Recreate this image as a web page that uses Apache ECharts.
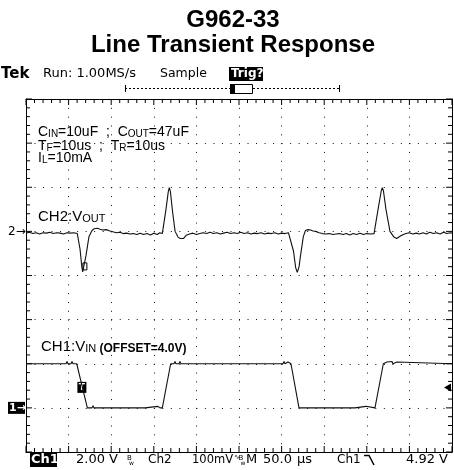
<!DOCTYPE html>
<html><head><meta charset="utf-8">
<script src="https://cdn.jsdelivr.net/npm/echarts@6/dist/echarts.min.js"></script>
<style>html,body{margin:0;padding:0;background:#fff}#c{width:454px;height:470px}</style>
</head><body><div id="c"></div>
<script>
// ---- data (time in microseconds) ----
const titleLines = ['G962-33', 'Line Transient Response'];

// CH1: VIN in volts (2 V/div, ground offset 4.0 V)
const vinTimeUs = [0, 40, 47, 48.1, 49.3, 52.8, 54, 55.2, 56.9, 59.5, 72, 77.5, 78.7, 79.8, 86.9, 88, 89.2, 96.2, 97.4, 98.6, 108, 109.2, 110.3, 139.7, 142, 154.9, 157.3, 160, 169.8, 173.7, 174.9, 176, 179.6, 180.7, 181.9, 185.4, 186.6, 187.8, 219.5, 220.7, 221.8, 251.2, 252.3, 253.5, 280.5, 281.7, 282.9, 301.6, 302.8, 304, 306.3, 307.5, 308.7, 311, 320.4, 326.3, 327.5, 328.6, 356.8, 358, 359.2, 374.4, 375.6, 376.8, 386.1, 387.3, 399, 400.2, 409.6, 419.4, 423.7, 426, 429.6, 430.7, 435.4, 436.6, 500];
const vinVolts = [6.0, 6.0, 6.0, 6.1, 6.0, 6.0, 6.1, 6.0, 6.08, 6.0, 4.0, 4.0, 4.1, 4.0, 4.0, 4.08, 4.0, 4.0, 4.08, 4.0, 4.0, 4.06, 4.0, 4.0, 4.07, 4.07, 4.0, 4.0, 6.0, 6.0, 6.1, 6.0, 6.0, 6.1, 6.0, 6.0, 6.08, 6.0, 6.0, 6.08, 6.0, 6.0, 6.08, 6.0, 6.0, 6.08, 6.0, 6.0, 6.1, 6.0, 6.0, 6.08, 6.0, 6.0, 4.0, 4.0, 4.08, 4.0, 4.0, 4.06, 4.0, 4.0, 4.06, 4.0, 4.0, 4.07, 4.07, 4.0, 4.0, 6.0, 6.08, 6.0, 6.1, 6.0, 6.08, 6.0, 6.0];

// CH2: VOUT in millivolts (100 mV/div)
const voutTimeUs = [0, 4, 8, 12, 16, 20, 24, 28, 32, 36, 40, 44, 48, 52, 56, 60.2, 63.4, 65.5, 66.5, 68, 70.4, 73.9, 77.5, 80, 82, 84, 86.9, 90, 94, 98.6, 102, 106, 110, 114, 118, 122, 126, 130, 134, 138, 142, 146, 150, 154, 157, 160, 164.3, 167, 168.2, 169.5, 172, 175, 178.4, 181, 183, 185, 188, 192, 196, 200, 204, 208, 212, 216, 220, 224, 228, 232, 236, 240, 244, 248, 252, 256, 260, 264, 268, 272, 276, 280, 284, 288, 292, 296, 300, 304, 308, 310, 314, 316.5, 318.4, 320.5, 322.2, 325.5, 328, 331, 334, 337, 340, 344, 348, 352, 356, 360, 364, 368, 372, 376, 380, 384, 388, 392, 396, 400, 404, 408.5, 413.2, 417, 418.2, 419.5, 422.5, 427.2, 431.9, 435, 437, 440, 443, 446, 450, 454, 458, 462, 466, 470, 474, 478, 482, 486, 490, 494, 498, 500];
const voutMilliVolts = [-4, -2, -5, -3, -6, -3, -4, -2, -5, -3, -4, -6, -3, -4, -3, -5, -40, -80, -92, -92, -55, -12, 2, 6, 4, 7, 5, 3, 4, 1, -1, -3, -2, -5, -4, -6, -5, -7, -4, -7, -5, -8, -4, -7, -3, -5, 50, 90, 99, 90, 45, 0, -13, -16, -14, -16, -9, -6, -4, -7, -5, -3, -5, -2, -5, -3, -6, -4, -2, -5, -3, -5, -2, -5, -3, -6, -4, -5, -3, -6, -4, -5, -3, -6, -4, -5, -3, -5, -45, -82, -93, -80, -55, -12, 2, 4, 3, 1, 0, -3, -5, -6, -5, -7, -6, -5, -7, -5, -8, -5, -7, -4, -7, -5, -6, -5, 50, 92, 99, 92, 50, 0, -13, -16, -14, -10, -7, -5, -3, -6, -4, -6, -3, -6, -2, -5, -3, -6, -2, -5, -3, -4];

const ch1Ground = 4.0;     // V (offset)
const ch2Ground = 0;       // mV
const triggerLevel = 4.92; // V
const triggerTimeUs = 65;
const timeAxis = {min: 0, max: 500, step: 50};
const vinAxis = {min: 2, max: 18, step: 2};
const voutAxis = {min: -500, max: 300, step: 100};

// graticule tick positions (every 1/5 division) derived from the axis ranges
const timeTicks = [];
for (let k = 0; k <= 50; k++) timeTicks.push(timeAxis.min + k * timeAxis.step / 5);
const voltTicks = [];
for (let k = 0; k <= 40; k++) voltTicks.push(vinAxis.min + k * vinAxis.step / 5);

// ---- chart ----
const chart = echarts.init(document.getElementById('c'), null, {renderer: 'canvas'});
const GRID = {left: 26, top: 99, width: 426, height: 353};
const black = '#000';
const frameAxis = (extra) => Object.assign({
  type: 'value',
  axisLine: {show: true, onZero: false, lineStyle: {color: black, width: 1}},
  axisTick: {show: false},
  axisLabel: {show: false},
  splitLine: {show: false}
}, extra);

const SANS = '"Liberation Sans", Arial, sans-serif';
const SCOPE = '"DejaVu Sans", sans-serif';

const tickLen = (i) => (i % 5 === 0 ? 6 : 4);
const tickSeries = (data, sizeFn, offsetFn) => ({
  type: 'scatter', xAxisIndex: 0, yAxisIndex: 0, silent: true, clip: false, z: 5,
  symbol: 'rect', itemStyle: {color: black, opacity: 1},
  data: data.map((d, i) => ({value: d, symbolSize: sizeFn(i), symbolOffset: offsetFn(i)}))
});

chart.setOption({
  animation: false,
  backgroundColor: '#fff',
  grid: Object.assign({containLabel: false}, GRID),
  xAxis: [
    frameAxis({min: timeAxis.min, max: timeAxis.max, interval: timeAxis.step, position: 'bottom',
      splitLine: {show: true, lineStyle: {color: '#111', width: 1, type: [1, 7.825]}}}),
    frameAxis({min: timeAxis.min, max: timeAxis.max, interval: timeAxis.step, position: 'top'})
  ],
  yAxis: [
    frameAxis({min: vinAxis.min, max: vinAxis.max, interval: vinAxis.step, position: 'left',
      splitLine: {show: true, lineStyle: {color: '#111', width: 1, type: [1, 7.52]}}}),
    frameAxis({min: voutAxis.min, max: voutAxis.max, interval: voutAxis.step, position: 'right'})
  ],
  series: [
    {name: 'VIN', type: 'line', xAxisIndex: 0, yAxisIndex: 0, showSymbol: false, symbol: 'none',
     lineStyle: {color: '#111', width: 1.1}, data: vinTimeUs.map((t, i) => [t, vinVolts[i]])},
    {name: 'VOUT', type: 'line', xAxisIndex: 0, yAxisIndex: 1, showSymbol: false, symbol: 'none',
     lineStyle: {color: '#111', width: 1.1}, data: voutTimeUs.map((t, i) => [t, voutMilliVolts[i]])},
    // frame ticks: top, bottom, left, right
    tickSeries(timeTicks.map(t => [t, vinAxis.max]), i => [1, tickLen(i)], i => [0, tickLen(i) / 2]),
    tickSeries(timeTicks.map(t => [t, vinAxis.min]), i => [1, tickLen(i)], i => [0, -tickLen(i) / 2]),
    tickSeries(voltTicks.map(v => [timeAxis.min, v]), i => [tickLen(i), 1], i => [tickLen(i) / 2, 0]),
    tickSeries(voltTicks.map(v => [timeAxis.max, v]), i => [tickLen(i), 1], i => [-tickLen(i) / 2, 0])
  ]
});

const y1 = chart.convertToPixel({yAxisIndex: 0}, ch1Ground);
const y2 = chart.convertToPixel({yAxisIndex: 1}, ch2Ground);
const yTrig = chart.convertToPixel({yAxisIndex: 0}, triggerLevel);
const xTrig = chart.convertToPixel({xAxisIndex: 0}, triggerTimeUs);
const rightX = GRID.left + GRID.width;

const txt = (x, y, text, font, fill, align) => ({
  type: 'text', x: x, y: y, silent: true,
  style: {text: text, font: font, fill: fill || black, textAlign: align || 'left', textVerticalAlign: 'middle'}
});
const smallCaps = (x, y, text, big, small, fam) => ({
  type: 'text', x: x, y: y, silent: true,
  style: {text: text, textVerticalAlign: 'middle', fill: black,
    rich: {a: {fontSize: big, fontFamily: fam, verticalAlign: 'bottom', fill: black},
           b: {fontSize: small, fontFamily: fam, verticalAlign: 'bottom', fill: black},
           c: {fontSize: 12, fontFamily: fam, fontWeight: 'bold', verticalAlign: 'bottom', fill: black}}}
});

chart.setOption({
  graphic: [
    txt(233, 20, titleLines[0], 'bold 24px ' + SANS, black, 'center'),
    txt(233, 45, titleLines[1], 'bold 24px ' + SANS, black, 'center'),
    // top status line
    txt(1, 74, 'Tek', 'bold 15px ' + SCOPE),
    txt(43, 74, 'Run: 1.00MS/s', '13px ' + SCOPE),
    txt(160, 74, 'Sample', '12.5px ' + SCOPE),
    {type: 'rect', shape: {x: 229, y: 67, width: 34, height: 14}, style: {fill: black}},
    txt(231, 74, 'Trig?', 'bold 12px ' + SCOPE, '#fff'),
    {type: 'line', shape: {x1: 125, y1: 88.5, x2: 340, y2: 88.5}, style: {stroke: black, lineWidth: 1, lineDash: [2, 2]}},
    {type: 'line', shape: {x1: 125.5, y1: 85, x2: 125.5, y2: 92}, style: {stroke: black, lineWidth: 1}},
    {type: 'line', shape: {x1: 339.5, y1: 85, x2: 339.5, y2: 92}, style: {stroke: black, lineWidth: 1}},
    {type: 'rect', shape: {x: 230.5, y: 84.5, width: 22, height: 9}, style: {fill: '#fff', stroke: black, lineWidth: 1}},
    {type: 'rect', shape: {x: 230, y: 84, width: 5, height: 10}, style: {fill: black}},
    // in-plot annotations
    smallCaps(38, 132, '{a|C}{b|IN}{a|=10uF  ;  C}{b|OUT}{a|=47uF}', 14, 10, SANS),
    smallCaps(38, 146, '{a|T}{b|F}{a|=10us  ;  T}{b|R}{a|=10us}', 14, 10, SANS),
    smallCaps(38, 158, '{a|I}{b|L}{a|=10mA}', 14, 10, SANS),
    smallCaps(38, 217, '{a|CH2:V}{b|OUT}', 15, 11, SANS),
    smallCaps(41, 347, '{a|CH1:V}{b|IN}{c| (OFFSET=4.0V)}', 15, 11, SANS),
    // channel markers
    txt(8, y2, '2\u2192', '12px ' + SCOPE),
    {type: 'rect', shape: {x: 8, y: y1 - 6, width: 17, height: 12}, style: {fill: black}},
    txt(9, y1, '1\u2192', 'bold 11px ' + SCOPE, '#fff'),
    {type: 'polygon', shape: {points: [[rightX - 8, yTrig], [rightX - 1, yTrig - 4], [rightX - 1, yTrig + 4]]}, style: {fill: black}},
    {type: 'rect', shape: {x: xTrig - 4, y: y1 - 26, width: 9, height: 11}, style: {fill: black}},
    txt(xTrig + 0.5, y1 - 20.5, 'T', 'bold 9px ' + SCOPE, '#fff', 'center'),
    {type: 'rect', shape: {x: xTrig + 1.5, y: y2 + 31.5, width: 4, height: 7}, style: {fill: '#fff', stroke: black, lineWidth: 1}},
    // bottom status line
    {type: 'rect', shape: {x: 30, y: 453, width: 27, height: 14}, style: {fill: black}},
    txt(31, 460, 'Ch1', 'bold 13px ' + SCOPE, '#fff'),
    txt(76, 460, '2.00 V', '13px ' + SCOPE),
    txt(127, 458, 'B', '7px ' + SCOPE),
    txt(129, 463, 'w', '6px ' + SCOPE),
    txt(148, 460, 'Ch2', '12px ' + SCOPE),
    txt(192, 460, '100mV', '11.5px ' + SCOPE),
    txt(234, 457, '\u223F', '7px ' + SCOPE),
    txt(238.5, 458, 'B', '7px ' + SCOPE),
    txt(240.5, 463, 'w', '6px ' + SCOPE),
    txt(246, 460, 'M', '13px ' + SCOPE),
    txt(263, 460, '50.0', '13px ' + SCOPE),
    txt(297, 460, '\u00B5s', '13px ' + SCOPE),
    txt(337, 460, 'Ch1', '12px ' + SCOPE),
    {type: 'polyline', shape: {points: [[364, 455.5], [369, 455.5], [374, 465]]}, style: {stroke: black, lineWidth: 1.5, fill: null}},
    txt(406, 460, '4.92 V', '13px ' + SCOPE)
  ]
});
</script></body></html>
